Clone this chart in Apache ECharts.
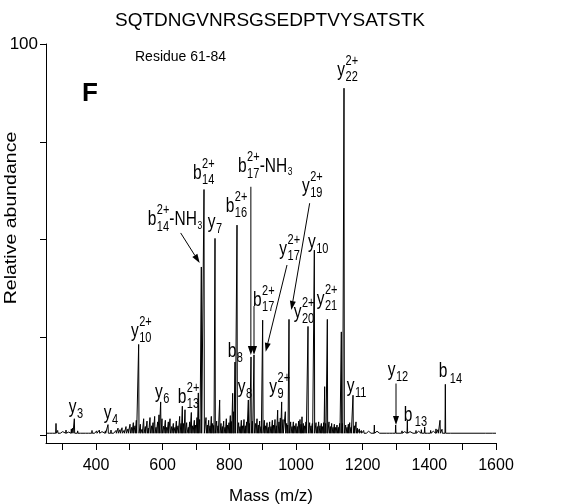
<!DOCTYPE html>
<html><head><meta charset="utf-8">
<script src="https://cdn.jsdelivr.net/npm/echarts@6/dist/echarts.min.js"></script>
<style>html,body{margin:0;padding:0;background:#fff}#c{width:577px;height:504px}</style>
</head><body><div id="c"></div>
<script>
const FONT = '"Liberation Sans", Arial, Helvetica, sans-serif';

const xTicks = [300,400,500,600,700,800,900,1000,1100,1200,1300,1400,1500,1600];
const xLabels = [400,600,800,1000,1200,1400,1600];
const yTicks = [0,25,50,75,100];
const yLabels = [100];

// assigned fragment peaks [m/z, relative abundance]
const majorPeaks = [
  [335,4.2],[436,2.7],[528,23.2],[594,8.5],[667,6.5],[716,43],[724,62.8],[757,50.3],
  [817,18.7],[823,53.7],[857,9.0],[865,20],[874,20.5],[900,29.4],[957,8.5],[979,29.6],
  [1036,27.8],[1055,47.3],[1094,29.6],[1136,26.4],[1144,88.7],[1171,10.2],[1299,2.6],
  [1334,3.8],[1448,13.0]
];

// unassigned / background peaks [m/z, relative abundance]
const minorPeaks = [
  [262,0.8],[270,0.7],[280,3.0],[285,1.2],[292,1.0],[300,0.9],[310,1.3],[318,0.8],[326,1.6],[330,1.8],
  [345,1.1],[352,0.8],[362,1.0],[370,0.7],[378,1.0],[388,1.2],[395,0.8],[402,1.1],[410,1.3],[418,0.9],
  [428,1.1],[445,1.3],[452,0.9],[460,1.2],[466,1.8],[472,1.4],[478,1.9],[484,1.2],[490,2.2],[496,1.6],
  [502,2.8],[507,2.0],[512,3.2],[517,2.4],[521,3.8],[533,2.8],[538,1.5],
  [543,4.2],[548,2.2],[553,3.6],[557,1.8],[562,4.5],[567,2.4],[571,3.2],[576,4.8],[580,2.0],[585,3.4],
  [589,5.2],[598,4.2],[603,2.3],[608,3.8],[612,2.0],[617,3.4],[622,4.2],[627,2.2],[632,3.0],[637,2.0],
  [641,3.6],[646,2.4],[651,4.8],[655,3.0],[659,7.4],[663,3.0],[672,3.2],[677,2.0],[681,3.4],[686,5.8],
  [690,2.4],[695,3.8],[699,2.6],[703,4.5],[707,10.8],[711,4.0],
  [730,4.5],[734,2.6],[738,3.8],[742,2.4],[746,4.8],[750,3.0],[753,2.5],[762,3.6],[766,2.4],[771,9.0],
  [775,3.0],[779,2.2],[783,3.6],[787,2.0],[791,4.2],[795,2.6],[799,3.2],[803,5.0],[806,3.5],[810,10.7],
  [813,6.0],[828,3.2],[832,2.2],[836,3.8],[840,2.4],[844,4.0],[848,2.4],[852,3.4],[860,3.0],[869,3.6],
  [879,3.0],[883,4.2],[887,2.6],[891,3.6],[895,2.2],[905,3.8],[909,2.4],[913,3.2],[917,2.0],[921,3.4],
  [925,2.2],[929,3.8],[933,2.6],[937,4.0],[941,2.4],[945,6.4],[949,3.4],[953,4.4],[961,4.0],[968,6.0],
  [972,3.0],[975,2.6],[984,3.4],[988,2.2],[992,3.4],[996,2.4],[1000,3.0],[1004,2.2],[1008,3.6],[1012,4.0],
  [1015,2.8],[1018,4.7],[1022,3.0],[1026,2.4],[1030,3.4],[1041,3.2],[1045,2.4],[1049,3.0],[1060,3.2],
  [1064,2.2],[1068,3.4],[1072,2.4],[1076,3.0],[1080,2.2],[1083,3.2],[1086,12.4],[1089,3.0],[1099,3.4],
  [1103,2.2],[1107,3.0],[1111,2.0],[1115,2.8],[1119,2.0],[1123,2.6],[1127,2.0],[1131,3.0],[1139,3.0],
  [1149,2.6],[1153,2.0],[1157,2.8],[1161,3.2],[1165,2.0],[1175,2.4],[1180,3.4],[1184,1.8],[1190,1.6],
  [1196,1.2],
  [1203,1.2],[1210,0.9],[1218,1.0],[1226,0.8],[1235,2.6],[1243,1.0],[1252,0.8],[1262,1.0],[1272,0.8],
  [1282,1.0],[1290,0.9],[1310,0.8],[1318,1.1],[1326,0.9],[1342,0.9],[1352,0.8],[1360,1.2],[1368,1.0],
  [1376,1.4],[1386,2.1],[1395,1.0],[1404,1.2],[1412,1.0],[1420,1.6],[1426,1.4],[1432,3.8],[1438,1.5],
  [1455,1.0],[1462,0.8],[1475,0.6],[1490,0.8],[1505,0.6],[1520,0.8],[1535,0.6],[1550,0.7],[1570,0.6],
  [1590,0.6]
];

// ion annotation texts
const ionLabels = [
  {ion:'y', sub:'3'},
  {ion:'y', sub:'4'},
  {ion:'y', sup:'2+', sub:'10'},
  {ion:'y', sub:'6'},
  {ion:'b', sup:'2+', sub:'13'},
  {ion:'b', sup:'2+', sub:'14', suffix:'-NH', suffixSub:'3'},
  {ion:'b', sup:'2+', sub:'14'},
  {ion:'y', sub:'7'},
  {ion:'b', sup:'2+', sub:'16'},
  {ion:'b', sup:'2+', sub:'17', suffix:'-NH', suffixSub:'3'},
  {ion:'b', sub:'8'},
  {ion:'y', sub:'8'},
  {ion:'b', sup:'2+', sub:'17'},
  {ion:'y', sup:'2+', sub:'17'},
  {ion:'y', sup:'2+', sub:'9'},
  {ion:'y', sup:'2+', sub:'19'},
  {ion:'y', sub:'10'},
  {ion:'y', sup:'2+', sub:'20'},
  {ion:'y', sup:'2+', sub:'21'},
  {ion:'y', sup:'2+', sub:'22'},
  {ion:'y', sub:'11'},
  {ion:'y', sub:'12'},
  {ion:'b', sub:'13', gap:true},
  {ion:'b', sub:'14', gap:true}
];
// where each annotation sits, in chart coordinates [m/z, abundance]
const labelAnchors = [
  [318,7.2],[423,5.6],[505,26.6],[577,11.0],[645,9.7],[555,55.1],[691,67.0],[735,54.5],
  [789,58.5],[826,68.7],[795,21.5],[825,12.3],[871,34.5],[950,47.6],[920,12.3],[1018,63.6],
  [1036,49.4],[993,31.5],[1062,34.8],[1124,93.3],[1152,12.5],[1275,16.6],[1323,5.1],[1428,16.3]
];
// annotation arrows [fromMz, fromAbund, toMz, toAbund]
const arrows = [
  [654,51.7,711,44.0],
  [864.6,63.5,864.6,20.5],
  [874,33,874,20.5],
  [973,43.5,909,21.3],
  [1041,59.3,986,32],
  [1300,13.2,1300,2.6]
];

const BASE = 0.5;
const allPeaks = majorPeaks.concat(minorPeaks).sort((a,b)=>a[0]-b[0]);
const trace = [[250, BASE]];
allPeaks.forEach(p => { trace.push([p[0]-1, BASE], [p[0], p[1]], [p[0]+1, BASE]); });
trace.push([1600, BASE]);

const cv = document.createElement('canvas').getContext('2d');
function tw(t, size){ cv.font = size + 'px ' + FONT; return cv.measureText(t).width; }
function txt(t, x, y, size){
  return {type:'text', style:{text:t, x:x, y:y, fontSize:size, fontFamily:FONT, fill:'#000',
    align:'left', verticalAlign:'middle', textAlign:'left', textVerticalAlign:'middle'}};
}
const MF = 15.5, SF = 11, STRETCH = 1.3;

const chart = echarts.init(document.getElementById('c'), null, {renderer:'canvas'});
chart.setOption({
  animation:false,
  backgroundColor:'#fff',
  grid:{left:46, right:81, top:44, bottom:61, containLabel:false, outerBoundsMode:'none'},
  xAxis:{
    type:'value', min:250, max:1600,
    name:'Mass (m/z)', nameLocation:'middle', nameGap:45,
    nameTextStyle:{fontSize:17, fontFamily:FONT, color:'#000'},
    axisLine:{show:true, onZero:false, lineStyle:{color:'#000', width:1}},
    axisTick:{show:true, inside:false, length:7, customValues:xTicks, lineStyle:{color:'#000'}},
    axisLabel:{show:true, customValues:xLabels, fontSize:16, fontFamily:FONT, color:'#000', margin:15,
      formatter:v=>String(v)},
    splitLine:{show:false}
  },
  yAxis:{
    type:'value', min:-2, max:100,
    axisLine:{show:true, onZero:false, lineStyle:{color:'#000', width:1}},
    axisTick:{show:true, inside:false, length:6, customValues:yTicks, lineStyle:{color:'#000'}},
    axisLabel:{show:true, customValues:yLabels, fontSize:17, fontFamily:FONT, color:'#000', margin:8, padding:[0,0,7,0],
      formatter:v=>String(v)},
    splitLine:{show:false}
  },
  graphic:[
    {type:'text', x:270, y:21, style:{text:'SQTDNGVNRSGSEDPTVYSATSTK', fontSize:19, fontFamily:FONT, fill:'#000', align:'center', verticalAlign:'middle'}},
    {type:'text', x:135, y:57, style:{text:'Residue 61-84', fontSize:14, fontFamily:FONT, fill:'#000', verticalAlign:'middle'}},
    {type:'text', x:82, y:94, style:{text:'F', fontSize:26, fontWeight:'bold', fontFamily:FONT, fill:'#000', verticalAlign:'middle'}},
    {type:'text', x:12, y:218, rotation:Math.PI/2, scaleX:1.22, style:{text:'Relative abundance', fontSize:16, fontFamily:FONT, fill:'#000', align:'center', verticalAlign:'middle'}}
  ],
  series:[
    {type:'line', data:trace, showSymbol:false, symbol:'none', lineStyle:{color:'#000', width:1}, z:2},
    {type:'custom', clip:false, z:3, data:arrows,
      renderItem:(params, api)=>{
        const a = api.coord([api.value(0), api.value(1)]);
        const b = api.coord([api.value(2), api.value(3)]);
        const dx = b[0]-a[0], dy = b[1]-a[1], len = Math.hypot(dx,dy);
        const ux = dx/len, uy = dy/len, L = 9, W = 3;
        const bx = b[0]-ux*L, by = b[1]-uy*L;
        return {type:'group', children:[
          {type:'line', shape:{x1:a[0], y1:a[1], x2:bx, y2:by}, style:{stroke:'#000', lineWidth:1}},
          {type:'polygon', shape:{points:[[b[0],b[1]],[bx-uy*W, by+ux*W],[bx+uy*W, by-ux*W]]}, style:{fill:'#000'}}
        ]};
      }},
    {type:'custom', clip:false, z:4, data:labelAnchors.map((a,i)=>[a[0],a[1],i]),
      renderItem:(params, api)=>{
        const L = ionLabels[api.value(2)];
        const p = api.coord([api.value(0), api.value(1)]);
        const kids = [txt(L.ion, 0, 0, MF)];
        let x = tw(L.ion, MF) + (L.gap ? 2.5 : 0.5);
        let w = 0;
        if (L.sup){ kids.push(txt(L.sup, x, -7, SF)); w = Math.max(w, tw(L.sup, SF)); }
        if (L.sub){ kids.push(txt(L.sub, x, 5.5, SF)); w = Math.max(w, tw(L.sub, SF)); }
        x += w;
        if (L.suffix){ kids.push(txt(L.suffix, x, 0, MF)); x += tw(L.suffix, MF); }
        if (L.suffixSub){ kids.push(txt(L.suffixSub, x+0.5, 4.5, 8.5)); }
        return {type:'group', x:p[0], y:p[1], scaleX:1, scaleY:STRETCH, children:kids};
      }}
  ]
});
</script></body></html>
